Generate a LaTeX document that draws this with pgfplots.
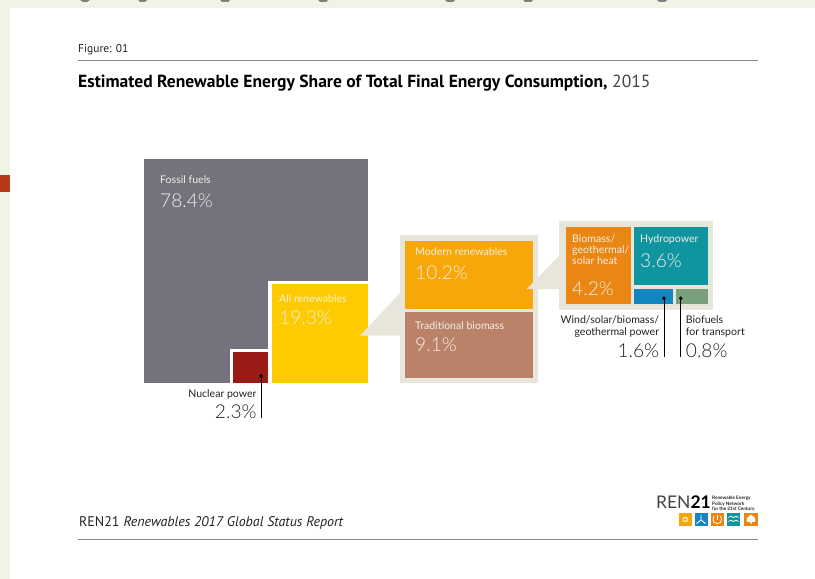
\documentclass[border=0pt]{standalone}
\usepackage{pgfplots}
\pgfplotsset{compat=1.18}
\usepackage{fontspec}
\setmainfont{Lato}
\newfontfamily\lightf{Lato Light}
\newfontfamily\headf{PT Sans}
\definecolor{slide}{HTML}{F1F4E5}
\definecolor{accent}{HTML}{B5391B}
\definecolor{frame}{HTML}{E8E6DA}
\definecolor{rulec}{HTML}{8E8E8E}
\definecolor{fossil}{HTML}{74727C}
\definecolor{allren}{HTML}{FDCB00}
\definecolor{nuclear}{HTML}{9A1B16}
\definecolor{modern}{HTML}{F7A707}
\definecolor{tradit}{HTML}{BB826A}
\definecolor{heat}{HTML}{EA8614}
\definecolor{hydro}{HTML}{0F959F}
\definecolor{wind}{HTML}{1287BF}
\definecolor{biofuel}{HTML}{7A9F7C}
\definecolor{labelw}{HTML}{F4EFE6}
\definecolor{ink}{HTML}{222222}
% a filled block given by its left, top, right and bottom edges
\newcommand{\block}[5]{\addplot[fill=#1,draw=none,forget plot] coordinates {(#2,#3) (#4,#3) (#4,#5) (#2,#5)} --cycle;}
% a callout line ending in a dot on the block it refers to
\newcommand{\leader}[3]{\addplot[black,line width=0.7pt,forget plot] coordinates {(#1,#2) (#1,#3)};
  \addplot[only marks,mark=*,mark size=1.6pt,black,forget plot] coordinates {(#1,#2)};}
% small block caption and large percentage, left or right aligned on a baseline
\newcommand{\capL}[4]{\node[anchor=base west,inner sep=0,text=#1,font=\fontsize{10.6}{11}\selectfont] at (axis cs:#2,#3) {#4};}
\newcommand{\capR}[4]{\node[anchor=base east,inner sep=0,text=#1,font=\fontsize{10.6}{11}\selectfont] at (axis cs:#2,#3) {#4};}
\newcommand{\valL}[4]{\node[anchor=base west,inner sep=0,text=#1,font=\lightf\fontsize{19.2}{20}\selectfont] at (axis cs:#2,#3) {#4};}
\newcommand{\valR}[4]{\node[anchor=base east,inner sep=0,text=#1,font=\lightf\fontsize{19.2}{20}\selectfont] at (axis cs:#2,#3) {#4};}
\begin{document}
\begin{tikzpicture}
\begin{axis}[scale only axis,width=815bp,height=579bp,
  xmin=0,xmax=815,ymin=0,ymax=579,y dir=reverse,hide axis]
% page ground
\block{slide}{0}{0}{815}{579}
\block{white}{10}{8}{815}{579}
\block{accent}{0}{175}{10}{192}
\addplot[fill=gray,draw=none,forget plot] coordinates {(80,0) (90,0) (87,2) (83,2)} --cycle;
\addplot[fill=gray,draw=none,forget plot] coordinates {(138,0) (147,0) (145,2) (140,2)} --cycle;
\addplot[fill=gray,draw=none,forget plot] coordinates {(220,0) (230,0) (228,2) (222,2)} --cycle;
\addplot[fill=gray,draw=none,forget plot] coordinates {(318,0) (328,0) (326,2) (320,2)} --cycle;
\addplot[fill=gray,draw=none,forget plot] coordinates {(445,0) (455,0) (453,2) (447,2)} --cycle;
\addplot[fill=gray,draw=none,forget plot] coordinates {(523,0) (533,0) (531,2) (525,2)} --cycle;
\addplot[fill=gray,draw=none,forget plot] coordinates {(657,0) (667,0) (665,2) (659,2)} --cycle;
% header and footer rules
\addplot[rulec,line width=1pt,forget plot] coordinates {(78,60.7) (758,60.7)};
\addplot[rulec,line width=1pt,forget plot] coordinates {(78,539) (758,539)};
% total consumption
\block{fossil}{144.3}{159}{368.3}{383.3}
\block{white}{267.7}{280.7}{368.3}{383.3}
\block{white}{230}{349}{271.7}{383.3}
\block{allren}{271.7}{284}{368.3}{383.3}
\block{nuclear}{233.3}{352.3}{267.7}{383.3}
% renewables breakdown with its pointer
\addplot[fill=frame,draw=none,forget plot] coordinates {(360,335.7) (400,293) (400,335.7)} --cycle;
\block{frame}{400}{235}{538.3}{383.3}
\block{modern}{405}{240.7}{533.3}{309.3}
\block{tradit}{405}{312}{533.3}{378.3}
% modern renewables breakdown with its pointer
\addplot[fill=frame,draw=none,forget plot] coordinates {(526.7,289) (559,256) (559,289)} --cycle;
\block{frame}{559}{220.7}{713.3}{310}
\block{heat}{566}{226.7}{631}{304}
\block{hydro}{634}{226.7}{707.7}{285.3}
\block{wind}{634}{288.7}{673}{304}
\block{biofuel}{676}{288.7}{707.7}{304}
% callouts
\leader{261}{376}{418.3}
\leader{664}{298.3}{357.3}
\leader{680.7}{298.3}{357.3}
% captions inside the blocks
\capL{labelw}{160}{183}{Fossil fuels}
\valL{labelw}{160}{207}{78.4\%}
\capL{labelw}{279}{302.7}{All renewables}
\valL{labelw}{279}{324}{19.3\%}
\capL{labelw}{415}{255.7}{Modern renewables}
\valL{labelw}{415}{279}{10.2\%}
\capL{labelw}{415}{329}{Traditional biomass}
\valL{labelw}{415}{351.7}{9.1\%}
\capL{labelw}{572}{242}{Biomass/}
\capL{labelw}{572}{253}{geothermal/}
\capL{labelw}{572}{264}{solar heat}
\valL{labelw}{572}{295.7}{4.2\%}
\capL{labelw}{640}{242}{Hydropower}
\valL{labelw}{640}{267}{3.6\%}
% captions outside the blocks
\capR{ink}{256.7}{397}{Nuclear power}
\valR{ink}{256.7}{418}{2.3\%}
\capR{ink}{659.3}{323.3}{Wind/solar/biomass/}
\capR{ink}{659.3}{335}{geothermal power}
\valR{ink}{659.3}{357}{1.6\%}
\capL{ink}{685.7}{323.3}{Biofuels}
\capL{ink}{685.7}{335}{for transport}
\valL{ink}{685.7}{357}{0.8\%}
% headings
\node[anchor=base west,inner sep=0,text=ink,font=\headf\fontsize{11.5}{12}\selectfont] at (axis cs:78,53) {Figure: 01};
\node[anchor=base west,inner sep=0,text=black,font=\headf\fontsize{17.6}{19}\selectfont] at (axis cs:78,88) {\textbf{Estimated Renewable Energy Share of Total Final Energy Consumption,} \textcolor{ink!85}{2015}};
\node[anchor=base west,inner sep=0,text=ink,font=\headf\fontsize{14}{15}\selectfont] at (axis cs:79,526.5) {REN21\hspace{4pt}\itshape Renewables 2017 Global Status Report};
% organisation mark
\node[anchor=base west,inner sep=0,text=ink!85,font=\fontsize{17.5}{18}\selectfont] at (axis cs:656,508) {REN\textbf{\textcolor{black}{21}}};
\node[anchor=north west,inner sep=0,text=ink,align=left,font=\bfseries\fontsize{4.7}{5.5}\selectfont] at (axis cs:712,496) {Renewable Energy\\Policy Network\\for the 21st Century};
\block{modern}{678.5}{513}{692}{526}
\block{wind}{694.5}{513}{708}{526}
\block{heat}{710.5}{513}{724}{526}
\block{hydro}{726.5}{513}{740}{526}
\block{heat}{744}{513}{758}{526}
\addplot[only marks,mark=*,mark size=2.4pt,white,forget plot] coordinates {(685.2,519.5)};
\addplot[only marks,mark=*,mark size=1.5pt,modern,forget plot] coordinates {(685.2,519.5)};
\addplot[white,line width=0.9pt,forget plot] coordinates {(701,515) (701,520) (696.5,523.5)};
\addplot[white,line width=0.9pt,forget plot] coordinates {(701,520) (705.5,523.5)};
\addplot[white,line width=0.8pt,forget plot] coordinates {(714,516) (713,519) (714,522.5) (717.2,523.5) (720.5,522.5) (721.5,519) (720.5,516)};
\addplot[white,line width=0.8pt,forget plot] coordinates {(717.2,514.5) (717.2,519.5)};
\addplot[white,line width=0.8pt,forget plot] coordinates {(728.5,517.5) (731,516.3) (733.5,517.5) (736,516.3) (738.5,517.5)};
\addplot[white,line width=0.8pt,forget plot] coordinates {(728.5,521.5) (731,520.3) (733.5,521.5) (736,520.3) (738.5,521.5)};
\addplot[fill=white,draw=none,forget plot] coordinates {(751,514.5) (755,518) (755.5,521.5) (752,522) (751,524.5) (750,522) (746.5,521.5) (747,518)} --cycle;
\end{axis}
\end{tikzpicture}
\end{document}
